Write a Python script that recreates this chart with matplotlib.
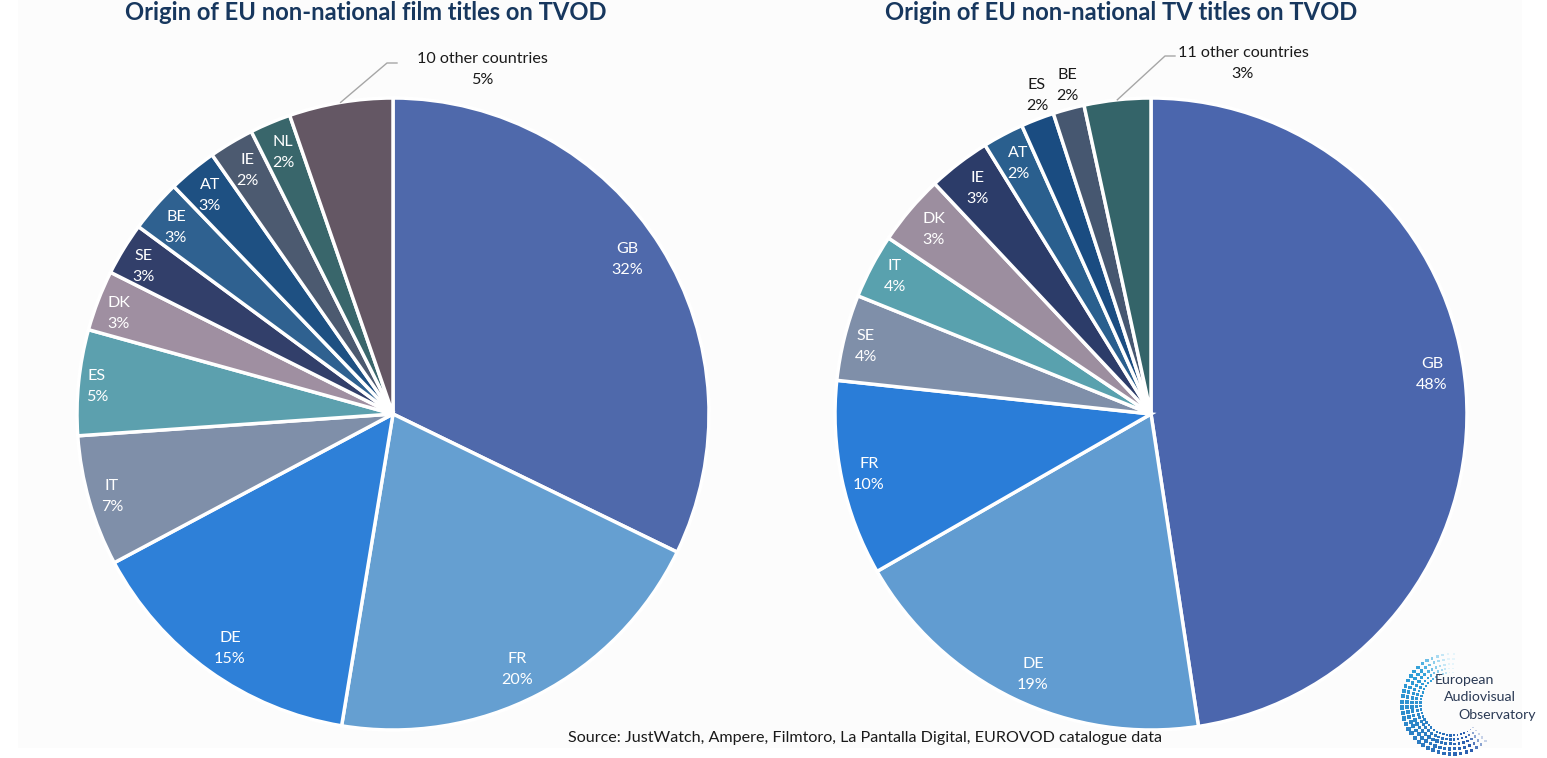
#!/usr/bin/python3

import numpy as np
import matplotlib
matplotlib.use("Agg")
import matplotlib.pyplot as plt
from matplotlib.patches import Rectangle

W, H = 1547, 758
FONT = "Lato"

film_title = "Origin of EU non-national film titles on TVOD"
film_codes = ["GB", "FR", "DE", "IT", "ES", "DK", "SE", "BE", "AT", "IE", "NL", "10 other countries"]
film_values = [32.2, 20.4, 14.6, 6.7, 5.4, 3.1, 2.7, 2.7, 2.5, 2.3, 2.1, 5.3]
film_shown = ["32%", "20%", "15%", "7%", "5%", "3%", "3%", "3%", "3%", "2%", "2%", "5%"]
film_colors = ["#4F69AB", "#659FD1", "#2E80D8", "#7F8FA9", "#5CA0AE", "#9F8FA1",
               "#323F6A", "#2F6190", "#1E5082", "#4C5A70", "#39666B", "#645764"]
# label centres in pixels of the picture
film_label_xy = [(627, 258), (517, 668), (230, 647), (112, 495), (97, 385), (119, 312),
                 (144, 265), (176, 226), (210, 194), (247, 169), (283, 151), (482, 68)]

tv_title = "Origin of EU non-national TV titles on TVOD"
tv_codes = ["GB", "DE", "FR", "SE", "IT", "DK", "IE", "AT", "ES", "BE", "11 other countries"]
tv_values = [47.6, 19.1, 10.0, 4.4, 3.3, 3.6, 3.2, 2.1, 1.7, 1.6, 3.4]
tv_shown = ["48%", "19%", "10%", "4%", "4%", "3%", "3%", "2%", "2%", "2%", "3%"]
tv_colors = ["#4B66AD", "#619CD1", "#2A7DD8", "#7F8FA9", "#59A1AE", "#9C8E9F",
             "#2C3C69", "#2A5F8E", "#1A4C81", "#465770", "#346469"]
tv_label_xy = [(1432, 373), (1033, 673), (869, 473), (866, 345), (895, 275), (934, 228),
               (978, 187), (1018, 162), (1037, 94), (1067, 84), (1243, 62)]

source_text = "Source: JustWatch, Ampere, Filmtoro, La Pantalla Digital, EUROVOD catalogue data"
logo_words = ["European", "Audiovisual", "Observatory"]


def draw_pie(fig, cx, cy, radius, title, title_x, codes, values, shown, colors, label_xy, elbow):
    """Pie centred on pixel (cx, cy), labels past the rim get dark text"""
    side = radius * 2.4
    ax = fig.add_axes([(cx - side / 2) / W, 1 - (cy + side / 2) / H, side / W, side / H])
    ax.patch.set_alpha(0)
    labels = ["%s\n%s" % (c, s) for c, s in zip(codes, shown)]
    wedges, texts = ax.pie(values, colors=colors, labels=labels, startangle=90, counterclock=False,
                           radius=1, normalize=True,
                           wedgeprops={"edgecolor": "white", "linewidth": 2.5})
    ax.set_xlim(-1.2, 1.2)
    ax.set_ylim(-1.2, 1.2)

    for wedge, text, (px, py) in zip(wedges, texts, label_xy):
        # 1.5 px because the two lines sit a bit high when centred
        lx, ly = (px - cx) / radius, (cy - py - 1.5) / radius
        text.set_position((lx, ly))
        text.set_ha("center")
        text.set_va("center")
        text.set_multialignment("center")
        text.set_fontsize(11.6)
        text.set_fontfamily(FONT)
        text.set_linespacing(1.58)
        text.set_color("#1A1A1A" if np.hypot(lx, ly) > 1 else "white")

    # leader line from the rim of the last slice
    last = wedges[-1]
    mid = np.radians((last.theta1 + last.theta2) / 2)
    ex = [(elbow[0] - cx) / radius, (elbow[0] + 10 - cx) / radius]
    ey = [(cy - elbow[1]) / radius] * 2
    ax.plot([np.cos(mid)] + ex, [np.sin(mid)] + ey, color="#A6A6A6", lw=1.0, clip_on=False)

    fig.text(title_x / W, 1 - 13 / H, title, ha="center", va="center", fontsize=17.1,
             fontweight="bold", color="#17375E", family=FONT)
    return ax


def draw_logo(ax):
    # band of small tiles bending round the words, fading at both ends
    cx, cy = 1452, 704
    rows = [(50, 4.2), (45, 3.9), (40, 3.5), (35.5, 3.0), (31.5, 2.5)]
    start_col = np.array([0x2F, 0xA9, 0xDE])
    end_col = np.array([0x2A, 0x4F, 0xA6])
    for rr, size in rows:
        for a in np.arange(88, 318, 6.4):
            t = (a - 88) / 230
            f = np.clip(min(t / 0.2, (1 - t) / 0.1), 0.12, 1)
            col = (start_col + (end_col - start_col) * t ** 1.4) / 255
            col = col * f + (1 - f)
            s = size * (0.55 + 0.45 * np.sin(np.pi * t))
            x = cx + rr * np.cos(np.radians(a))
            y = cy - rr * np.sin(np.radians(a))
            ax.add_patch(Rectangle((x - s / 2, y - s / 2), s, s, color=col, lw=0))
    for word, x, y in zip(logo_words, [1435, 1444, 1458], [680, 697, 715]):
        ax.text(x, y, word, fontsize=10.2, color="#2B3A55", family=FONT, va="center", ha="left")


def main():
    fig = plt.figure(figsize=(W / 100, H / 100), dpi=100, facecolor="white")

    back = fig.add_axes([0, 0, 1, 1])
    back.set_xlim(0, W)
    back.set_ylim(H, 0)
    back.axis("off")
    back.add_patch(Rectangle((18, 0), 1504, 748, color="#FCFCFC", lw=0))

    draw_pie(fig, 393, 414, 316, film_title, 366, film_codes, film_values, film_shown, film_colors,
             film_label_xy, (387, 63))
    draw_pie(fig, 1151, 414, 316, tv_title, 1121, tv_codes, tv_values, tv_shown, tv_colors,
             tv_label_xy, (1165, 56))

    front = fig.add_axes([0, 0, 1, 1])
    front.set_xlim(0, W)
    front.set_ylim(H, 0)
    front.axis("off")
    front.patch.set_alpha(0)
    front.text(865, 738, source_text, ha="center", va="center", fontsize=11.6, color="#1A1A1A", family=FONT)
    draw_logo(front)

    fig.savefig("out.png", dpi=100)


if __name__ == "__main__":
    main()
